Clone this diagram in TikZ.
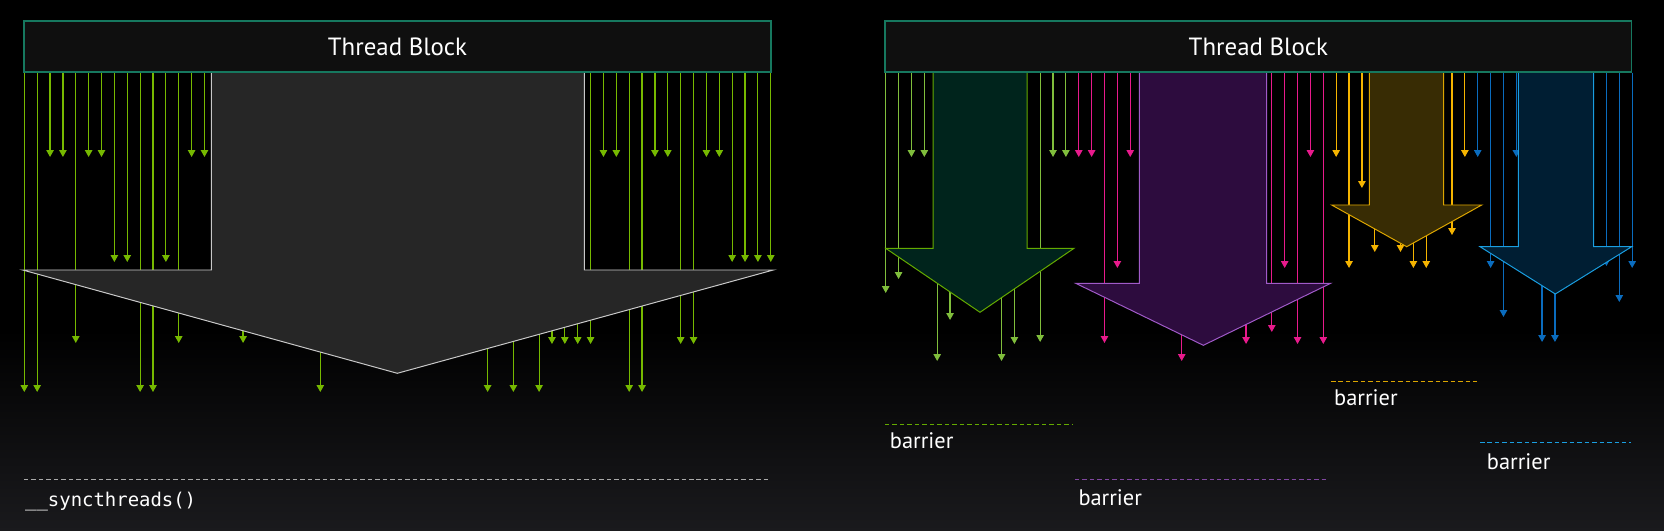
\documentclass[tikz,border=0pt]{standalone}
\usepackage{fontspec}
\setmainfont{PT Sans}
\setmonofont{DejaVu Sans Mono}
\usetikzlibrary{arrows.meta}
\definecolor{bgglow}{RGB}{26,26,29}
\definecolor{blockfill}{RGB}{15,15,15}
\definecolor{blockline}{RGB}{22,120,95}
\definecolor{nvgreen}{RGB}{118,185,0}
\definecolor{greenthread}{RGB}{128,190,60}
\definecolor{greenfill}{RGB}{0,36,28}
\definecolor{greenline}{RGB}{100,170,0}
\definecolor{pinkthread}{RGB}{232,26,140}
\definecolor{purplefill}{RGB}{45,12,62}
\definecolor{purpleline}{RGB}{160,90,200}
\definecolor{orangethread}{RGB}{245,180,0}
\definecolor{orangefill}{RGB}{56,44,4}
\definecolor{orangeline}{RGB}{220,165,0}
\definecolor{bluethread}{RGB}{10,108,190}
\definecolor{bluefill}{RGB}{0,30,51}
\definecolor{blueline}{RGB}{26,158,224}
\definecolor{grayfill}{RGB}{38,38,38}
\definecolor{grayline}{RGB}{200,200,200}
\definecolor{syncline}{RGB}{170,170,170}

\begin{document}
\begin{tikzpicture}[
    x=1bp, y=-1bp,
    block/.style={rectangle, draw=blockline, fill=blockfill, line width=1.3pt, inner sep=0pt,
                  minimum height=51bp, text=white, font=\fontsize{25}{30}\selectfont},
    thread/.style={-{Triangle[width=7.5pt,length=7pt]}, line width=1.2pt},
    warp/.style={line width=1pt, line join=miter},
    barrierline/.style={line width=1.2pt, dash pattern=on 4.5pt off 3pt},
    barriertext/.style={anchor=base west, inner sep=0pt, text=white, font=\fontsize{22.5}{27}\selectfont}
]
    \useasboundingbox (0,0) rectangle (1664,531);

    % background, a little lighter towards the bottom
    \fill[black] (0,0) rectangle (1664,531);
    \shade[top color=black, bottom color=bgglow] (0,330) rectangle (1664,531);

    % Thread blocks
    \node[block, minimum width=747bp] (tbL) at (397.5,46.5) {};
    \node[block, minimum width=746.7bp] (tbR) at (1258.35,46.5) {};

    % Left panel: threads of the whole block
    \foreach \k/\tip in {0/392,1/392,2/157,3/157,4/343,5/157,6/157,7/262,8/262,9/392,10/392,
                         11/262,12/343,13/157,14/157,17/343,23/392,36/392,38/392,40/392,41/344,
                         42/344,43/344,44/344,45/157,46/157,47/392,48/392,49/157,50/157,51/344,
                         52/344,53/157,54/157,55/262,56/262,57/262,58/262} {
        \pgfmathsetmacro\tx{24.3+12.87*\k}
        \draw[thread, nvgreen] (\tx,0 |- tbL.south) -- (\tx,\tip);
    }

    % Right panel: threads, one colour per group
    \foreach \k/\tip in {0/293,1/279,2/157,3/157,4/361,5/320,9/361,10/344,12/342,13/157,14/157} {
        \pgfmathsetmacro\tx{885.7+12.87*\k}
        \draw[thread, greenthread] (\tx,0 |- tbR.south) -- (\tx,\tip);
    }
    \foreach \k/\tip in {15/157,16/157,17/343,18/268,19/157,23/361,28/344,30/332,31/268,32/344,33/157,34/344} {
        \pgfmathsetmacro\tx{885.7+12.87*\k}
        \draw[thread, pinkthread] (\tx,0 |- tbR.south) -- (\tx,\tip);
    }
    \foreach \k/\tip in {35/157,36/268,37/188,38/252,40/252,41/268,42/268,44/235,45/157} {
        \pgfmathsetmacro\tx{885.7+12.87*\k}
        \draw[thread, orangethread] (\tx,0 |- tbR.south) -- (\tx,\tip);
    }
    \foreach \k/\tip in {46/157,47/268,48/317,49/157,51/342,52/342,56/266,57/302,58/268} {
        \pgfmathsetmacro\tx{885.7+12.87*\k}
        \draw[thread, bluethread] (\tx,0 |- tbR.south) -- (\tx,\tip);
    }

    % Big arrows (drawn over the threads)
    \filldraw[warp, fill=grayfill, draw=grayline]
        (211.3,72) -- (211.3,270) -- (22.7,270) -- (397.3,373.3) -- (773.3,270) -- (584.3,270) -- (584.3,72) -- cycle;
    \filldraw[warp, fill=greenfill, draw=greenline]
        (933,72) -- (933,248.3) -- (885.7,248.3) -- (980,312.3) -- (1074,248.3) -- (1027,248.3) -- (1027,72) -- cycle;
    \filldraw[warp, fill=purplefill, draw=purpleline]
        (1139.3,72) -- (1139.3,283.3) -- (1075.7,283.3) -- (1203.3,345.3) -- (1330.7,283.3) -- (1266.7,283.3) -- (1266.7,72) -- cycle;
    \filldraw[warp, fill=orangefill, draw=orangeline]
        (1369.3,72) -- (1369.3,205) -- (1331.7,205) -- (1406.7,246.7) -- (1481.7,205) -- (1443.7,205) -- (1443.7,72) -- cycle;
    \filldraw[warp, fill=bluefill, draw=blueline]
        (1518.3,72) -- (1518.3,246.7) -- (1480,246.7) -- (1555.3,294) -- (1631.7,246.7) -- (1593.7,246.7) -- (1593.7,72) -- cycle;

    % Thread block boxes on top
    \node[block, minimum width=747bp] at (tbL.center) {Thread Block};
    \node[block, minimum width=746.7bp] at (tbR.center) {Thread Block};

    % Barriers
    \draw[barrierline, syncline] (24,479.3) -- (771,479.3);
    \node[anchor=base west, inner sep=0pt, text=white, font=\fontsize{19}{23}\selectfont\ttfamily]
        (syncL) at (25,506) {\_\_syncthreads()};

    \draw[barrierline, greenline] (885,424.3) -- (1073,424.3);
    \node[barriertext] (barG) at (889.7,448.3) {barrier};
    \draw[barrierline, purpleline!80!black] (1075,479.3) -- (1328,479.3);
    \node[barriertext] (barP) at (1078.3,505) {barrier};
    \draw[barrierline, orangeline] (1331,381.3) -- (1480,381.3);
    \node[barriertext] (barO) at (1334,405.7) {barrier};
    \draw[barrierline, blueline] (1480,442.3) -- (1631,442.3);
    \node[barriertext] (barB) at (1486.7,469) {barrier};

\end{tikzpicture}
\end{document}
